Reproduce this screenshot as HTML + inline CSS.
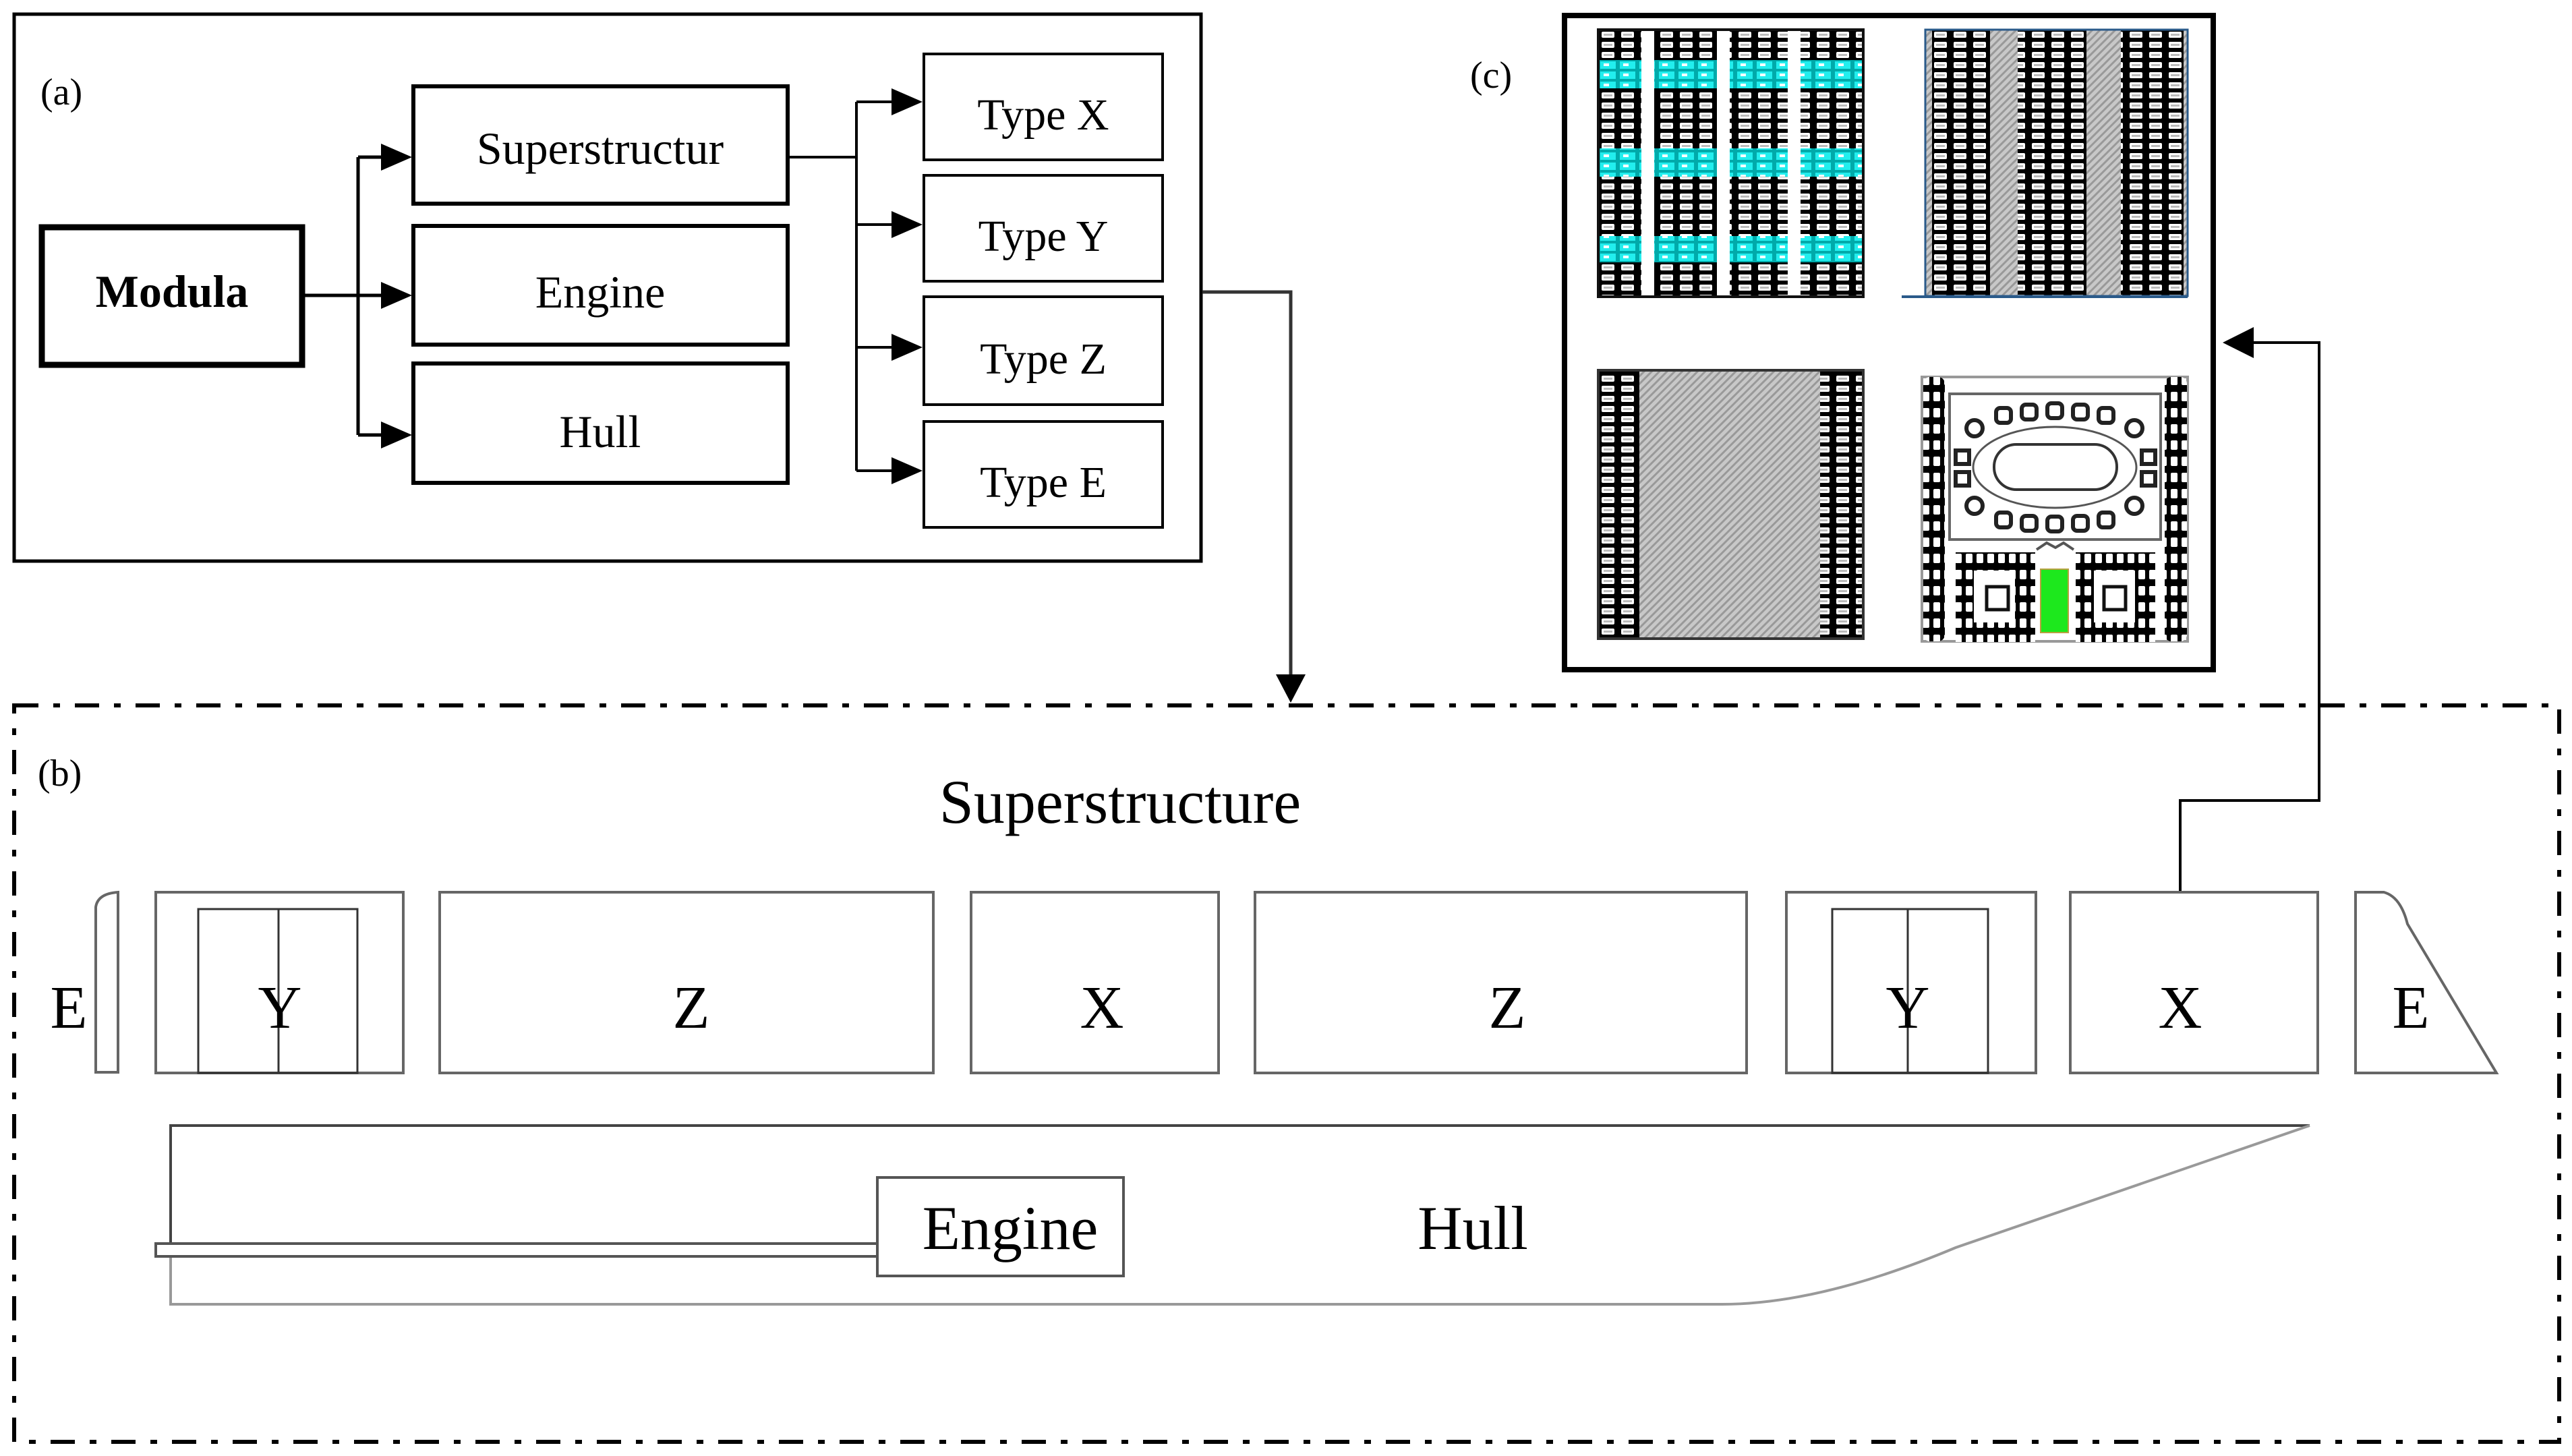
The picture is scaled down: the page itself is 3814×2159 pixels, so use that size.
<!DOCTYPE html>
<html><head><meta charset="utf-8"><style>
html,body{margin:0;padding:0;background:#fff;}
svg{display:block;}
text{font-family:"Liberation Serif",serif;fill:#000;}
</style></head><body>
<svg width="3814" height="2159" viewBox="0 0 3814 2159" xmlns="http://www.w3.org/2000/svg">
<defs>
<pattern id="seat" patternUnits="userSpaceOnUse" width="29" height="15" x="2370" y="44">
<rect width="29" height="15" fill="#000"/>
<rect x="5" y="3" width="19" height="9" rx="2" fill="#fff"/>
<rect x="8" y="6" width="13" height="3" fill="#bbb"/>
</pattern>
<pattern id="seatc" patternUnits="userSpaceOnUse" width="29" height="15" x="2370" y="44">
<rect width="29" height="15" fill="#0aa"/>
<rect x="3" y="2" width="23" height="11" fill="#2ee"/>
<rect x="8" y="5" width="8" height="4" fill="#fff"/>
</pattern>
<pattern id="seatv" patternUnits="userSpaceOnUse" width="16" height="24">
<rect width="16" height="24" fill="#000"/>
<rect x="3" y="5" width="10" height="14" rx="2" fill="#fff"/>
</pattern>
<pattern id="hatch" patternUnits="userSpaceOnUse" width="8" height="8" patternTransform="rotate(45)">
<rect width="8" height="8" fill="#c8c8c8"/>
<rect width="3" height="8" fill="#999"/>
</pattern>
</defs>

<!-- Panel (a) -->
<rect x="21" y="21" width="1760" height="811" fill="none" stroke="#000" stroke-width="5"/>
<text x="60" y="155" font-size="56">(a)</text>
<rect x="62" y="337" width="386" height="204" fill="none" stroke="#000" stroke-width="9"/>
<text x="255" y="455" font-size="68" font-weight="bold" text-anchor="middle">Modula</text>
<rect x="613" y="128" width="555" height="174" fill="none" stroke="#000" stroke-width="6"/>
<text x="890" y="243" font-size="68" text-anchor="middle">Superstructur</text>
<rect x="613" y="335" width="555" height="176" fill="none" stroke="#000" stroke-width="6"/>
<text x="890" y="456" font-size="68" text-anchor="middle">Engine</text>
<rect x="613" y="539" width="555" height="177" fill="none" stroke="#000" stroke-width="6"/>
<text x="890" y="663" font-size="68" text-anchor="middle">Hull</text>
<path d="M452 438 H531 M531 233 V645" stroke="#000" stroke-width="5" fill="none"/>
<path d="M531 233 H570 M531 438 H570 M531 645 H570" stroke="#000" stroke-width="5"/>
<path d="M565 213 L611 233 L565 253Z M565 418 L611 438 L565 458Z M565 625 L611 645 L565 665Z"/>
<path d="M1170 233 H1270 M1270 151 V698" stroke="#000" stroke-width="4" fill="none"/>
<path d="M1270 151 H1325 M1270 333 H1325 M1270 515 H1325 M1270 698 H1325" stroke="#000" stroke-width="4"/>
<path d="M1322 131 L1368 151 L1322 171Z M1322 313 L1368 333 L1322 353Z M1322 495 L1368 515 L1322 535Z M1322 678 L1368 698 L1322 718Z"/>
<rect x="1370" y="80" width="354" height="157" fill="none" stroke="#000" stroke-width="4"/>
<text x="1547" y="192" font-size="66" text-anchor="middle">Type X</text>
<rect x="1370" y="260" width="354" height="157" fill="none" stroke="#000" stroke-width="4"/>
<text x="1547" y="372" font-size="66" text-anchor="middle">Type Y</text>
<rect x="1370" y="440" width="354" height="160" fill="none" stroke="#000" stroke-width="4"/>
<text x="1547" y="554" font-size="66" text-anchor="middle">Type Z</text>
<rect x="1370" y="625" width="354" height="157" fill="none" stroke="#000" stroke-width="4"/>
<text x="1547" y="737" font-size="66" text-anchor="middle">Type E</text>
<path d="M1783 433 H1914 V1010" stroke="#333" stroke-width="5" fill="none"/>
<path d="M1892 1000 L1936 1000 L1914 1042Z"/>

<!-- Panel (c) -->
<text x="2180" y="130" font-size="56">(c)</text>
<rect x="2320" y="23" width="962" height="970" fill="none" stroke="#000" stroke-width="8"/>
<g>
<rect x="2370" y="44" width="393" height="396" fill="#fff"/>
<rect x="2370" y="44" width="64" height="396" fill="url(#seat)"/>
<rect x="2453" y="44" width="93" height="396" fill="url(#seat)"/>
<rect x="2565" y="44" width="86" height="396" fill="url(#seat)"/>
<rect x="2670" y="44" width="93" height="396" fill="url(#seat)"/>
<g fill="url(#seatc)">
<rect x="2370" y="89" width="64" height="42"/><rect x="2453" y="89" width="93" height="42"/><rect x="2565" y="89" width="86" height="42"/><rect x="2670" y="89" width="93" height="42"/>
<rect x="2370" y="220" width="64" height="42"/><rect x="2453" y="220" width="93" height="42"/><rect x="2565" y="220" width="86" height="42"/><rect x="2670" y="220" width="93" height="42"/>
<rect x="2370" y="350" width="64" height="39"/><rect x="2453" y="350" width="93" height="39"/><rect x="2565" y="350" width="86" height="39"/><rect x="2670" y="350" width="93" height="39"/>
</g>
<rect x="2370" y="44" width="393" height="396" fill="none" stroke="#111" stroke-width="4"/>
</g>
<g>
<rect x="2855" y="44" width="389" height="395" fill="url(#hatch)"/>
<rect x="2865" y="44" width="86" height="395" fill="url(#seat)"/>
<rect x="2992" y="44" width="102" height="395" fill="url(#seat)"/>
<rect x="3145" y="44" width="93" height="395" fill="url(#seat)"/>
<rect x="2855" y="44" width="389" height="395" fill="none" stroke="#2a5a8a" stroke-width="3"/>
<line x1="2820" y1="440" x2="3244" y2="440" stroke="#2a5a8a" stroke-width="4"/>
</g>
<g>
<rect x="2370" y="549" width="393" height="398" fill="url(#hatch)"/>
<rect x="2370" y="549" width="61" height="398" fill="url(#seat)"/>
<rect x="2699" y="549" width="64" height="398" fill="url(#seat)"/>
<rect x="2370" y="549" width="393" height="398" fill="none" stroke="#333" stroke-width="4"/>
</g>
<g>
<rect x="2850" y="559" width="394" height="392" fill="#fff" stroke="#999" stroke-width="4"/>
<rect x="2852" y="559" width="32" height="392" rx="10" fill="url(#seatv)"/>
<rect x="3210" y="559" width="33" height="392" rx="10" fill="url(#seatv)"/>
<rect x="2891" y="584" width="313" height="216" fill="#fff" stroke="#666" stroke-width="4"/>
<ellipse cx="3047" cy="693" rx="121" ry="60" fill="#fff" stroke="#555" stroke-width="3"/>
<rect x="2957" y="659" width="182" height="67" rx="33" fill="#fff" stroke="#333" stroke-width="4"/>
<g fill="#fff" stroke="#222" stroke-width="6">
<rect x="2960" y="605" width="22" height="22" rx="6"/><rect x="2998" y="600" width="22" height="22" rx="6"/><rect x="3036" y="598" width="22" height="22" rx="6"/><rect x="3074" y="600" width="22" height="22" rx="6"/><rect x="3112" y="605" width="22" height="22" rx="6"/>
<rect x="2960" y="760" width="22" height="22" rx="6"/><rect x="2998" y="765" width="22" height="22" rx="6"/><rect x="3036" y="766" width="22" height="22" rx="6"/><rect x="3074" y="765" width="22" height="22" rx="6"/><rect x="3112" y="760" width="22" height="22" rx="6"/>
<circle cx="2928" cy="635" r="12"/><circle cx="3165" cy="635" r="12"/><circle cx="2928" cy="750" r="12"/><circle cx="3165" cy="750" r="12"/>
<rect x="2900" y="668" width="20" height="20"/><rect x="2900" y="700" width="20" height="20"/><rect x="3176" y="668" width="20" height="20"/><rect x="3176" y="700" width="20" height="20"/>
</g>
<path d="M3020 815 L3035 805 L3048 812 L3060 805 L3075 815" fill="none" stroke="#555" stroke-width="4"/>
<g>
<rect x="2900" y="819" width="118" height="133" fill="url(#seatv)"/>
<rect x="2927" y="846" width="61" height="77" fill="#fff"/>
<rect x="2946" y="870" width="32" height="34" fill="#fff" stroke="#111" stroke-width="5"/>
<rect x="3078" y="819" width="118" height="133" fill="url(#seatv)"/>
<rect x="3105" y="846" width="61" height="77" fill="#fff"/>
<rect x="3120" y="870" width="32" height="34" fill="#fff" stroke="#111" stroke-width="5"/>
</g>
<rect x="3026" y="844" width="41" height="94" fill="#1de81d" stroke="#b8a040" stroke-width="2"/>
</g>
<path d="M3233 1406 V1187 H3439 V508 H3338" stroke="#000" stroke-width="4" fill="none"/>
<path d="M3296 508 L3342 485 L3342 531Z"/>

<!-- Panel (b) -->
<rect x="21" y="1046" width="3774" height="1092" fill="none" stroke="#000" stroke-width="6" stroke-dasharray="36 22 10 22"/>
<text x="56" y="1165" font-size="56">(b)</text>
<text x="1661" y="1220" font-size="92" text-anchor="middle">Superstructure</text>
<g fill="#fff" stroke="#666" stroke-width="4">
<path d="M142 1590 V1345 Q145 1325 175 1323 V1590 Z"/>
<rect x="231" y="1323" width="367" height="268"/>
<rect x="652" y="1323" width="732" height="268"/>
<rect x="1440" y="1323" width="367" height="268"/>
<rect x="1861" y="1323" width="729" height="268"/>
<rect x="2649" y="1323" width="370" height="268"/>
<rect x="3070" y="1323" width="367" height="268"/>
<path d="M3493 1591 V1323 H3535 Q3560 1330 3570 1370 L3702 1591 Z"/>
</g>
<g fill="none" stroke="#333" stroke-width="3">
<rect x="294" y="1348" width="236" height="243"/><line x1="413" y1="1348" x2="413" y2="1591"/>
<rect x="2717" y="1348" width="231" height="243"/><line x1="2829" y1="1348" x2="2829" y2="1591"/>
</g>
<g font-size="90" text-anchor="middle">
<text x="102" y="1524">E</text>
<text x="415" y="1524">Y</text>
<text x="1025" y="1524">Z</text>
<text x="1634" y="1524">X</text>
<text x="2235" y="1524">Z</text>
<text x="2829" y="1524">Y</text>
<text x="3233" y="1524">X</text>
<text x="3575" y="1524">E</text>
</g>
<path d="M253 1844 V1669 H3425" fill="none" stroke="#444" stroke-width="4"/>
<path d="M253 1863 V1934 H2554 Q2700 1934 2900 1850 L3425 1669" fill="none" stroke="#999" stroke-width="4"/>
<rect x="231" y="1844" width="1070" height="19" fill="#fff" stroke="#555" stroke-width="4"/>
<rect x="1301" y="1746" width="365" height="146" fill="#fff" stroke="#555" stroke-width="4"/>
<text x="1498" y="1852" font-size="92" text-anchor="middle">Engine</text>
<text x="2184" y="1852" font-size="92" text-anchor="middle">Hull</text>
</svg>
</body></html>
